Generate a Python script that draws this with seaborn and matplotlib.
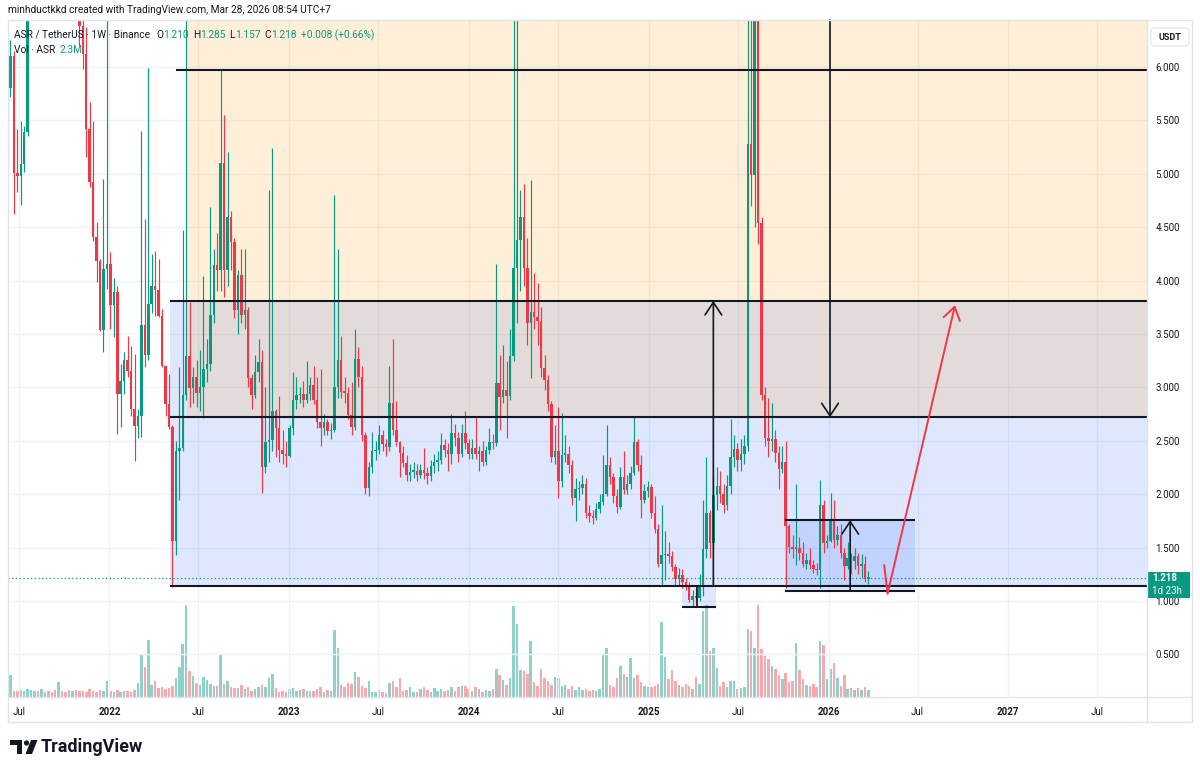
import numpy as np
import pandas as pd
import matplotlib
matplotlib.use("Agg")
import matplotlib.pyplot as plt
import matplotlib.dates as mdates
from matplotlib.patches import Rectangle, Polygon, Circle, FancyBboxPatch
from matplotlib.lines import Line2D
from matplotlib.transforms import IdentityTransform
import seaborn as sns

# ---------------- data (weekly ASR/USDT, Binance) ----------------
first_week = "2021-06-14"
first_open = 5.80
close = [
    6.10, 5.01, 4.98, 5.09, 5.39, 7.10, 7.60, 8.30, 7.90, 8.60,
    9.00, 8.40, 8.00, 7.60, 7.90, 7.40, 7.10, 6.90, 7.00, 6.75,
    6.38, 6.12, 5.42, 4.92, 4.41, 4.18, 3.54, 4.11, 4.16, 3.77,
    3.89, 2.94, 3.06, 3.26, 3.15, 2.80, 2.64, 2.73, 3.58, 3.30,
    3.78, 3.95, 3.91, 3.67, 3.20, 2.84, 2.63, 1.56, 2.40, 2.43,
    2.93, 3.29, 2.99, 3.10, 2.95, 3.00, 3.17, 3.22, 3.68, 4.15,
    4.10, 5.10, 4.10, 4.60, 4.36, 3.72, 4.05, 3.68, 3.72, 3.09,
    2.93, 3.14, 3.24, 2.25, 2.49, 2.51, 2.78, 2.62, 2.41, 2.38,
    2.36, 2.62, 2.88, 2.93, 2.94, 2.88, 2.94, 3.02, 2.88, 2.68,
    2.62, 2.68, 2.59, 2.60, 3.00, 3.26, 2.96, 2.95, 2.74, 2.63,
    3.27, 3.10, 2.55, 2.06, 2.25, 2.40, 2.41, 2.55, 2.47, 2.44,
    2.85, 2.60, 2.49, 2.39, 2.29, 2.18, 2.21, 2.22, 2.18, 2.23,
    2.20, 2.17, 2.26, 2.30, 2.32, 2.46, 2.41, 2.38, 2.57, 2.53,
    2.38, 2.57, 2.48, 2.38, 2.43, 2.38, 2.40, 2.30, 2.41, 2.49,
    2.48, 3.04, 2.91, 2.98, 2.92, 3.29, 4.12, 4.38, 4.60, 4.12,
    3.60, 3.71, 3.66, 3.62, 3.18, 3.07, 2.84, 2.35, 2.40, 2.12,
    2.37, 2.38, 2.27, 1.96, 2.05, 2.06, 2.10, 1.82, 1.80, 1.78,
    1.86, 1.93, 2.00, 2.27, 2.16, 1.98, 1.88, 2.16, 2.04, 2.10,
    2.20, 2.49, 2.27, 1.95, 2.03, 2.07, 1.82, 1.67, 1.35, 1.43,
    1.44, 1.42, 1.32, 1.21, 1.24, 1.18, 1.14, 1.01, 1.05, 1.03,
    1.13, 1.49, 1.82, 1.54, 1.99, 2.08, 2.00, 1.90, 2.08, 2.35,
    2.42, 2.32, 2.38, 2.45, 5.28, 4.99, 7.30, 4.54, 2.93, 2.53,
    2.50, 2.52, 2.39, 2.24, 2.30, 1.70, 1.51, 1.49, 1.50, 1.45,
    1.35, 1.38, 1.34, 1.30, 1.29, 1.90, 1.54, 1.56, 1.76, 1.57,
    1.62, 1.45, 1.33, 1.40, 1.37, 1.42, 1.33, 1.35, 1.21, 1.218,
]
high = [
    6.25, 6.15, 5.42, 5.49, 5.45, 7.60, 8.20, 9.00, 8.80, 9.40,
    9.80, 9.20, 8.70, 8.30, 8.40, 8.10, 7.70, 7.40, 7.50, 7.20,
    6.90, 6.50, 6.37, 5.67, 5.49, 4.55, 4.20, 4.95, 6.60, 4.27,
    4.02, 3.95, 3.22, 3.33, 3.48, 3.39, 3.31, 2.80, 5.40, 4.58,
    5.99, 4.25, 4.28, 4.20, 3.73, 3.20, 3.13, 2.65, 2.50, 3.19,
    4.47, 6.80, 3.80, 3.19, 3.26, 3.35, 4.04, 3.45, 4.69, 4.30,
    4.45, 5.97, 5.55, 5.20, 4.65, 4.40, 4.10, 4.30, 4.30, 3.75,
    3.13, 3.30, 3.45, 3.35, 3.00, 4.85, 5.24, 2.80, 2.92, 2.60,
    2.50, 2.65, 3.14, 3.10, 3.00, 3.06, 3.25, 3.10, 3.20, 3.10,
    3.17, 2.75, 2.70, 2.67, 4.80, 4.30, 3.48, 3.10, 3.00, 3.05,
    3.55, 3.38, 3.20, 2.58, 2.30, 2.58, 2.50, 2.65, 2.60, 2.52,
    3.20, 3.45, 2.87, 2.50, 2.45, 2.37, 2.28, 2.30, 2.28, 2.28,
    2.43, 2.25, 2.32, 2.38, 2.40, 2.57, 2.52, 2.48, 2.75, 2.66,
    2.58, 2.66, 2.78, 2.52, 2.52, 2.72, 2.45, 2.50, 2.45, 2.62,
    2.56, 4.16, 3.30, 3.40, 3.25, 3.55, 6.80, 6.60, 4.85, 4.90,
    4.40, 4.94, 4.07, 3.98, 3.75, 3.30, 3.12, 2.87, 2.65, 2.82,
    2.76, 2.55, 2.45, 2.32, 2.15, 2.12, 2.18, 2.15, 1.90, 1.85,
    1.92, 2.00, 2.37, 2.65, 2.35, 2.20, 2.05, 2.25, 2.40, 2.18,
    2.26, 2.73, 2.52, 2.37, 2.10, 2.12, 2.10, 1.98, 1.72, 1.90,
    1.66, 1.55, 1.47, 1.35, 1.31, 1.30, 1.22, 1.18, 1.10, 1.12,
    1.25, 1.95, 2.35, 1.85, 2.20, 2.25, 2.22, 2.10, 2.18, 2.70,
    2.55, 2.48, 2.52, 2.55, 6.70, 6.60, 8.20, 7.60, 4.60, 3.00,
    2.90, 2.85, 2.60, 2.45, 2.45, 2.50, 1.72, 1.62, 2.10, 1.60,
    1.55, 1.45, 1.50, 1.38, 1.36, 2.13, 1.95, 1.62, 2.01, 1.95,
    1.70, 1.72, 1.50, 1.55, 1.45, 1.50, 1.45, 1.44, 1.42, 1.285,
]
low = [
    5.72, 4.62, 4.83, 4.71, 5.02, 5.35, 6.90, 7.40, 7.50, 7.80,
    8.30, 8.00, 7.60, 7.20, 7.30, 7.00, 6.80, 6.60, 6.60, 6.50,
    6.20, 5.98, 5.16, 4.88, 4.37, 3.99, 3.53, 3.33, 3.92, 3.55,
    3.47, 2.56, 2.63, 2.94, 3.10, 2.73, 2.31, 2.53, 2.54, 3.19,
    3.26, 3.70, 3.67, 3.66, 3.19, 2.73, 2.61, 1.13, 1.43, 1.95,
    2.40, 2.88, 2.82, 2.85, 2.82, 2.78, 2.71, 3.05, 3.15, 3.60,
    3.90, 3.90, 3.85, 3.95, 4.10, 3.65, 3.50, 3.60, 3.55, 3.00,
    2.80, 2.90, 3.05, 2.01, 2.20, 2.30, 2.40, 2.35, 2.30, 2.28,
    2.25, 2.35, 2.55, 2.80, 2.85, 2.82, 2.85, 2.88, 2.84, 2.62,
    2.45, 2.55, 2.55, 2.52, 2.58, 2.90, 2.90, 2.85, 2.70, 2.55,
    2.60, 3.00, 2.50, 2.00, 1.98, 2.20, 2.32, 2.38, 2.40, 2.36,
    2.40, 2.55, 2.45, 2.16, 2.25, 2.12, 2.12, 2.15, 2.12, 2.15,
    2.14, 2.10, 2.12, 2.20, 2.22, 2.28, 2.35, 2.22, 2.28, 2.45,
    2.30, 2.35, 2.42, 2.33, 2.33, 2.33, 2.22, 2.26, 2.27, 2.38,
    2.42, 2.45, 2.60, 2.85, 2.53, 2.88, 3.25, 3.60, 3.90, 3.95,
    3.40, 3.09, 3.55, 3.40, 3.10, 2.98, 2.78, 2.30, 2.28, 1.96,
    2.07, 2.30, 2.20, 1.90, 1.75, 1.95, 2.00, 1.78, 1.74, 1.72,
    1.76, 1.82, 1.90, 1.98, 2.10, 1.92, 1.82, 1.86, 2.00, 2.00,
    2.05, 2.18, 2.22, 1.78, 1.92, 1.97, 1.78, 1.64, 1.32, 1.15,
    1.20, 1.36, 1.28, 1.15, 1.15, 1.12, 1.10, 0.99, 0.95, 0.97,
    1.00, 1.05, 1.40, 1.40, 1.50, 1.85, 1.92, 1.82, 1.85, 2.00,
    2.25, 2.22, 2.22, 2.28, 2.40, 4.70, 4.50, 4.34, 2.88, 2.45,
    2.35, 2.40, 2.30, 2.05, 2.20, 1.12, 1.45, 1.40, 1.34, 1.38,
    1.32, 1.30, 1.30, 1.26, 1.24, 1.12, 1.45, 1.50, 1.55, 1.50,
    1.52, 1.40, 1.20, 1.30, 1.25, 1.30, 1.25, 1.22, 1.18, 1.157,
]
volume_m = [
    7.0, 2.0, 1.8, 2.2, 1.9, 2.5, 2.3, 1.8, 2.0, 2.4,
    1.7, 2.0, 1.6, 2.2, 4.7, 2.0, 1.7, 2.1, 1.9, 2.3,
    1.8, 2.0, 1.6, 2.4, 1.9, 1.7, 2.2, 1.8, 5.2, 2.0,
    1.7, 2.2, 1.6, 1.9, 2.0, 1.5, 2.3, 4.4, 13.2, 9.5,
    18.0, 3.8, 5.2, 2.8, 3.0, 2.6, 2.9, 3.5, 6.0, 9.5,
    16.7, 29.0, 8.2, 6.6, 4.4, 3.8, 6.3, 5.4, 4.1, 3.6,
    3.6, 13.2, 4.1, 4.9, 3.0, 2.7, 2.8, 3.8, 2.6, 3.1,
    1.8, 2.4, 3.1, 3.8, 3.2, 6.0, 7.3, 2.8, 1.6, 2.0,
    1.7, 2.4, 2.8, 1.9, 2.2, 2.5, 1.8, 2.0, 1.9, 2.5,
    3.1, 1.6, 2.2, 2.0, 21.0, 15.4, 3.8, 3.1, 4.4, 4.1,
    7.9, 6.3, 3.5, 2.8, 4.9, 1.7, 1.5, 2.1, 1.6, 1.4,
    4.4, 5.2, 3.0, 6.0, 1.8, 2.1, 3.1, 1.5, 1.7, 2.4,
    3.1, 2.2, 1.5, 2.8, 1.9, 2.6, 2.0, 2.2, 3.1, 2.0,
    3.1, 3.5, 3.5, 2.4, 2.0, 3.3, 2.6, 1.6, 2.3, 2.0,
    2.4, 8.8, 6.9, 5.5, 3.8, 6.1, 28.7, 23.0, 8.5, 8.2,
    7.3, 17.6, 4.7, 3.5, 8.7, 5.9, 4.9, 3.8, 6.3, 6.0,
    3.6, 3.8, 2.5, 3.5, 2.1, 3.1, 2.1, 2.5, 1.8, 2.2,
    1.9, 2.6, 13.2, 15.6, 3.8, 3.1, 6.0, 9.8, 7.3, 6.3,
    12.3, 6.0, 6.8, 4.7, 3.5, 3.1, 3.1, 3.5, 4.0, 23.6,
    12.6, 5.7, 8.5, 5.2, 3.8, 3.1, 4.1, 3.6, 2.5, 6.3,
    4.0, 27.0, 29.0, 14.5, 15.4, 9.1, 3.6, 4.7, 3.1, 5.2,
    5.2, 2.5, 2.8, 3.3, 21.4, 20.8, 15.3, 29.0, 15.1, 12.9,
    12.0, 9.8, 8.8, 6.8, 5.7, 7.5, 4.7, 5.2, 17.0, 8.5,
    5.7, 3.8, 3.6, 4.1, 3.0, 17.6, 16.4, 5.7, 8.8, 10.7,
    6.0, 3.6, 6.9, 2.5, 2.8, 2.2, 2.8, 2.2, 3.0, 2.3,
]

price_ticks = [0.5, 1.0, 1.5, 2.0, 2.5, 3.0, 3.5, 4.0, 4.5, 5.0, 5.5, 6.0]
time_ticks = ["2021-07-01", "2022-01-01", "2022-07-01", "2023-01-01", "2023-07-01",
              "2024-01-01", "2024-07-01", "2025-01-01", "2025-07-01", "2026-01-01",
              "2026-07-01", "2027-01-01", "2027-07-01"]
time_labels = ["Jul", "2022", "Jul", "2023", "Jul", "2024", "Jul", "2025", "Jul",
               "2026", "Jul", "2027", "Jul"]

# drawings (dates / price levels)
level_top, level_hi, level_mid, level_lo = 5.97, 3.81, 2.72, 1.14
top_line_start = "2022-05-16"
levels_start = "2022-05-04"
orange_start = "2022-06-07"
small_box = ["2025-03-09", "2025-05-18"]
small_box_mid = "2025-04-09"
small_box_low = 0.94
arrow_up_date = "2025-05-12"
arrow_down_date = "2026-01-04"
range_box = ["2025-10-05", "2026-06-26"]
range_box_prices = [1.094, 1.758]
range_arrow_date = "2026-02-14"
red_path_dates = ["2026-04-24", "2026-05-01", "2026-09-15"]
red_path_prices = [1.337, 1.07, 3.77]
last_price = 1.218

# ---------------- style ----------------
sns.set_theme(style="white")
plt.rcParams["font.family"] = ["Roboto", "DejaVu Sans"]

UP = "#089981"
DN = "#F23645"
VOL_UP = "#8fd1c6"
VOL_DN = "#f8a9ae"
INK = "#131722"
GRID = "#eef1f6"
BORDER = "#e0e3eb"
BLUE = "#2962FF"
ORANGE = "#FF9800"

W, H = 1200, 772
fig = plt.figure(figsize=(W / 100, H / 100), dpi=100)
fig.patch.set_facecolor("white")


def fx(px):
    return px / W


def fy(py):
    return 1 - py / H


L, R, T, B = 8, 1147, 20, 697
rect = [fx(L), fy(B), fx(R) - fx(L), fy(T) - fy(B)]
ax_vol = fig.add_axes(rect)
ax = fig.add_axes(rect, sharex=ax_vol)
ax.patch.set_visible(False)

dates = pd.date_range(first_week, periods=len(close), freq="7D")
x = mdates.date2num(dates)
c = np.array(close)
h = np.array(high)
lo = np.array(low)
o = np.concatenate([[first_open], c[:-1]])
is_up = c >= o

# volume (seaborn)
df_vol = pd.DataFrame({"x": x, "volume": volume_m, "dir": np.where(is_up, "up", "down")})
sns.barplot(data=df_vol, x="x", y="volume", hue="dir", hue_order=["up", "down"],
            palette={"up": VOL_UP, "down": VOL_DN}, native_scale=True, dodge=False,
            width=0.72, saturation=1, errorbar=None, legend=False, linewidth=0,
            orient="x", ax=ax_vol)
ax_vol.set_ylim(0, max(volume_m) * (B - T) / 92.0)
ax_vol.set_xlabel("")
ax_vol.set_ylabel("")
ax_vol.set_yticks([])
ax_vol.tick_params(labelbottom=False, bottom=False, left=False, labelleft=False)
for s in ax_vol.spines.values():
    s.set_visible(False)

d2n = lambda d: mdates.date2num(pd.Timestamp(d))
xmin, xmax = d2n("2021-06-09"), d2n("2027-10-10")
ymin, ymax = 0.1011, 6.44
ax.set_xlim(xmin, xmax)
ax.set_ylim(ymin, ymax)

# grid
ax.set_axisbelow(True)
ax.grid(True, color=GRID, lw=1.0)

# zones (blue first, orange laid over it -> warm overlap)
xs = d2n(levels_start)
xo = d2n(orange_start)
ax.add_patch(Rectangle((xs, level_lo), xmax - xs, level_hi - level_lo, facecolor=BLUE, alpha=0.15, lw=0, zorder=1))
ax.add_patch(Rectangle((xo, level_mid), xmax - xo, 10, facecolor=ORANGE, alpha=0.15, lw=0, zorder=1.1))
sb0, sb1 = d2n(small_box[0]), d2n(small_box[1])
ax.add_patch(Rectangle((sb0, small_box_low), sb1 - sb0, level_lo - small_box_low, facecolor=BLUE, alpha=0.15, lw=0, zorder=1))
rb0, rb1 = d2n(range_box[0]), d2n(range_box[1])
ax.add_patch(Rectangle((rb0, range_box_prices[0]), rb1 - rb0, range_box_prices[1] - range_box_prices[0],
                       facecolor=BLUE, alpha=0.15, lw=0, zorder=1.2))

# candles
col = np.where(is_up, UP, DN)
ax.vlines(x, lo, h, colors=col, lw=0.85, zorder=3)
ax.bar(x, np.maximum(np.abs(c - o), 0.012), bottom=np.minimum(o, c), width=5.0,
       color=col, linewidth=0, zorder=4)

# current price line
ax.axhline(last_price, color=UP, lw=0.9, ls=(0, (1, 2)), zorder=2)

# horizontal levels
ax.hlines(level_top, d2n(top_line_start), xmax, color=INK, lw=1.5, zorder=5)
for lv in (level_hi, level_mid, level_lo):
    ax.hlines(lv, xs, xmax, color=INK, lw=1.5, zorder=5)
ax.hlines(small_box_low, sb0, sb1, color=INK, lw=1.5, zorder=5)
ax.vlines(d2n(small_box_mid), small_box_low, level_lo, color=INK, lw=1.2, zorder=5)
ax.hlines(range_box_prices, rb0, rb1, color=INK, lw=1.5, zorder=5)

ARW = dict(arrowstyle="->,head_length=0.75,head_width=0.5", lw=1.2, color=INK,
           shrinkA=0, shrinkB=0)
xa = d2n(arrow_up_date)
ax.annotate("", xy=(xa, level_hi), xytext=(xa, level_lo), arrowprops=ARW, zorder=6)
xd = d2n(arrow_down_date)
ax.annotate("", xy=(xd, level_mid), xytext=(xd, ymax), arrowprops=ARW, zorder=6)
xr = d2n(range_arrow_date)
ax.annotate("", xy=(xr, range_box_prices[1]), xytext=(xr, range_box_prices[0]), arrowprops=ARW, zorder=6)

rx = [d2n(d) for d in red_path_dates]
ax.plot(rx[:2], red_path_prices[:2], color=DN, lw=1.4, zorder=6, solid_capstyle="round")
ax.annotate("", xy=(rx[2], red_path_prices[2]), xytext=(rx[1], red_path_prices[1]),
            arrowprops=dict(arrowstyle="->,head_length=0.75,head_width=0.5", lw=1.4, color=DN,
                            shrinkA=0, shrinkB=0), zorder=6)

# ticks
ax.set_xticks([d2n(t) for t in time_ticks])
ax.set_xticklabels(time_labels)
for lab, txt in zip(ax.get_xticklabels(), time_labels):
    if txt.isdigit():
        lab.set_fontweight("bold")
ax.tick_params(axis="x", length=0, pad=7, labelsize=7, labelcolor=INK, labelbottom=True)
ax.yaxis.tick_right()
ax.set_yticks(price_ticks)
ax.set_yticklabels([f"{v:.3f}" for v in price_ticks])
ax.tick_params(axis="y", length=0, pad=6, labelsize=7, labelcolor=INK)
for s in ax.spines.values():
    s.set_visible(False)

# borders
def fline(x0, y0, x1, y1, color=BORDER, lw=1.0):
    fig.add_artist(Line2D([fx(x0), fx(x1)], [fy(y0), fy(y1)], transform=fig.transFigure,
                          color=color, lw=lw))

fline(L, T, 1192, T)
fline(L, B, 1192, B)
fline(L, 722, 1192, 722)
fline(L, T, L, 722)
fline(R, T, R, 722)
fline(1192, T, 1192, 722)

# last price label
fig.add_artist(Rectangle((fx(1148), fy(598)), fx(42), 26 / H, transform=fig.transFigure,
                         facecolor=UP, edgecolor="none"))
fig.text(fx(1152), fy(578), f"{last_price:.3f}", color="white", fontsize=7, fontweight="bold",
         ha="left", va="center")
fig.text(fx(1152), fy(591), "1d 23h", color="white", fontsize=7, ha="left", va="center")

# USDT box
fig.add_artist(FancyBboxPatch((fx(1151), fy(46)), fx(38), 18 / H, transform=fig.transFigure,
                              boxstyle="round,pad=0,rounding_size=0.004", facecolor="white",
                              edgecolor=BORDER, lw=0.8))
fig.text(fx(1170), fy(37), "USDT", color=INK, fontsize=6.5, fontweight="bold",
         ha="center", va="center")

# header & legend
fig.text(fx(8), fy(10), "minhductkkd created with TradingView.com, Mar 28, 2026 08:54 UTC+7",
         color=INK, fontsize=7.3, ha="left", va="center")

renderer = fig.canvas.get_renderer()


def seq_text(x0, y0, parts, size):
    xc = x0
    for s, color, gap in parts:
        t = fig.text(fx(xc), fy(y0), s, color=color, fontsize=size, ha="left", va="center")
        xc += t.get_window_extent(renderer).width + gap


seq_text(14, 35, [("ASR / TetherUS · 1W · Binance", INK, 6),
                  ("O", INK, 0), ("1.210", UP, 4),
                  ("H", INK, 0), ("1.285", UP, 4),
                  ("L", INK, 0), ("1.157", UP, 4),
                  ("C", INK, 0), ("1.218", UP, 4),
                  ("+0.008 (+0.66%)", UP, 0)], 7.3)
seq_text(14, 50, [("Vol · ASR", INK, 4), ("2.3M", UP, 0)], 7.3)

# TradingView logo
idt = IdentityTransform()
def P(px, py):
    return (px, H - py)

fig.add_artist(Polygon([P(10, 740), P(22, 740), P(22, 754), P(17, 754), P(17, 745), P(10, 745)],
                       closed=True, transform=idt, facecolor=INK, edgecolor="none"))
fig.add_artist(Circle(P(26.5, 743), 2.6, transform=idt, facecolor=INK, edgecolor="none"))
fig.add_artist(Polygon([P(31, 740), P(37.5, 740), P(32, 754), P(25.5, 754)],
                       closed=True, transform=idt, facecolor=INK, edgecolor="none"))
fig.text(fx(41), fy(747.5), "TradingView", color=INK, fontsize=13, fontweight="bold",
         ha="left", va="center")

fig.savefig("out.png", dpi=100)
